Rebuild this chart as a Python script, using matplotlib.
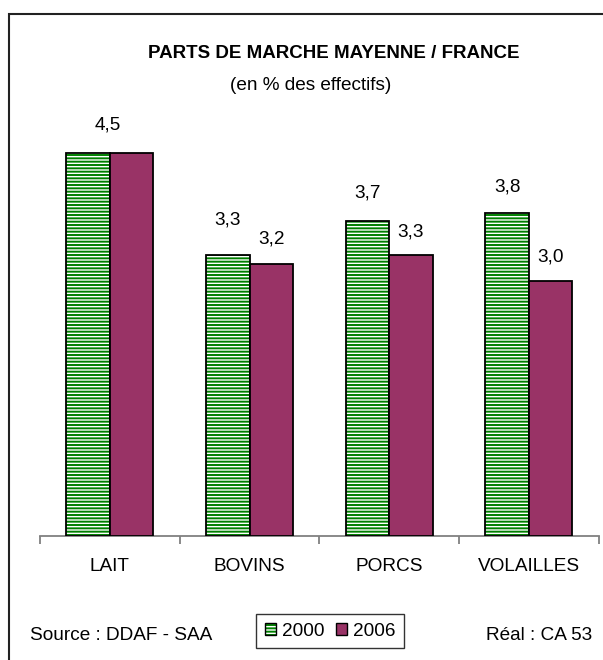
import matplotlib
matplotlib.use("Agg")
import matplotlib.pyplot as plt
from matplotlib.patches import Rectangle, Patch
from matplotlib.legend_handler import HandlerTuple
import numpy as np

# ---- data ----
categories = ["LAIT", "BOVINS", "PORCS", "VOLAILLES"]
series_names = ["2000", "2006"]
values_2000 = [4.5, 3.3, 3.7, 3.8]
values_2006 = [4.5, 3.2, 3.3, 3.0]
title = "PARTS DE MARCHE MAYENNE / FRANCE"
subtitle = "(en % des effectifs)"
source_text = "Source : DDAF - SAA"
real_text = "Réal : CA 53"

# ---- style ----
GREEN = "#008000"
PURPLE = "#993366"
FS = 13.7
plt.rcParams["font.family"] = ["Liberation Sans", "DejaVu Sans"]
plt.rcParams["hatch.linewidth"] = 1.4

fig = plt.figure(figsize=(6.03, 6.6), dpi=100)
ax = fig.add_axes([40 / 603, 124.5 / 660, 558.7 / 603, 425 / 660])

x = np.arange(len(categories))
w = 0.311
off = w / 2

# 2000 bars: white face with green horizontal hatch, black outline
ax.bar(x - off, values_2000, w, facecolor="white", edgecolor=GREEN,
       hatch="-----", linewidth=0, zorder=2)
ax.bar(x - off, values_2000, w, fill=False, edgecolor="black",
       linewidth=1.3, zorder=3)
# 2006 bars
ax.bar(x + off, values_2006, w, facecolor=PURPLE, edgecolor="black",
       linewidth=1.3, zorder=3)

# value labels (offsets in pixels above bar tops)
px2pt = 72 / 100
lab_off_2000 = [28, 35, 28, 26]
lab_off_2006 = [None, 24, 23, 23]
lab_dx_2000 = [off * 0.9, 0, 0, 0]
for i, v in enumerate(values_2000):
    ax.annotate(f"{v:.1f}".replace(".", ","), (x[i] - off + lab_dx_2000[i], v),
                xytext=(0, lab_off_2000[i] * px2pt), textcoords="offset points",
                ha="center", va="center", fontsize=FS)
for i, v in enumerate(values_2006):
    if lab_off_2006[i] is None:
        continue
    ax.annotate(f"{v:.1f}".replace(".", ","), (x[i] + off, v),
                xytext=(0, lab_off_2006[i] * px2pt), textcoords="offset points",
                ha="center", va="center", fontsize=FS)

ax.set_xlim(-0.5, len(categories) - 0.5)
ax.set_ylim(0, 5)
for s in ["top", "right", "left"]:
    ax.spines[s].set_visible(False)
ax.spines["bottom"].set_color("#808080")
ax.spines["bottom"].set_linewidth(1.3)
ax.set_yticks([])
ax.set_xticks(x)
ax.set_xticklabels(categories, fontsize=FS)
ax.tick_params(axis="x", which="major", length=0, pad=16)
ax.set_xticks(np.arange(-0.5, len(categories)), minor=True)
ax.tick_params(axis="x", which="minor", length=6, width=1.3, color="#808080",
               direction="out")

# titles
fig.text(334 / 603, 1 - 53 / 660, title, ha="center", va="center",
         fontsize=13.5, fontweight="bold")
fig.text(311 / 603, 1 - 86 / 660, subtitle, ha="center", va="center",
         fontsize=FS)

# footer texts
fig.text(30 / 603, 1 - 636 / 660, source_text, ha="left", va="center",
         fontsize=FS)
fig.text(592 / 603, 1 - 636 / 660, real_text, ha="right", va="center",
         fontsize=FS)

# legend
h2000 = (Patch(facecolor="white", edgecolor=GREEN, hatch="-----", linewidth=0),
         Patch(fill=False, edgecolor="black", linewidth=1))
h2006 = Patch(facecolor=PURPLE, edgecolor="black", linewidth=1)
leg = fig.legend([h2000, h2006], series_names, loc="center",
                 bbox_to_anchor=(330 / 603, 1 - 631 / 660), ncol=2,
                 handler_map={tuple: HandlerTuple(ndivide=1, pad=0)},
                 fontsize=FS, frameon=True, fancybox=False,
                 handlelength=0.6, handleheight=0.6, handletextpad=0.3,
                 columnspacing=0.6, borderpad=0.45, borderaxespad=0)
leg.get_frame().set_edgecolor("black")
leg.get_frame().set_linewidth(1.0)

# outer border (only top & left visible, extends beyond the image)
fig.patches.append(Rectangle((9 / 603, -0.1), 1.2, 1 - 14 / 660 + 0.1,
                             transform=fig.transFigure, fill=False,
                             edgecolor="#222222", linewidth=1.5))

fig.savefig("out.png", dpi=100)
